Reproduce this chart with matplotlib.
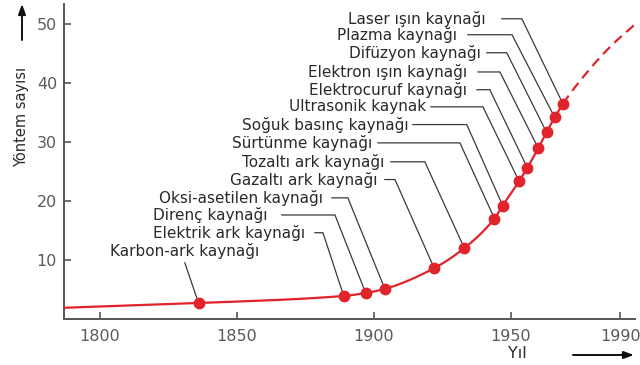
import numpy as np
import matplotlib
matplotlib.use("Agg")
import matplotlib.pyplot as plt

plt.rcParams['font.family'] = ['DejaVu Sans']

# Welding methods and the year each appeared (cumulative number of methods)
methods = [
    "Karbon-ark kaynağı",
    "Elektrik ark kaynağı",
    "Direnç kaynağı",
    "Oksi-asetilen kaynağı",
    "Gazaltı ark kaynağı",
    "Tozaltı ark kaynağı",
    "Sürtünme kaynağı",
    "Soğuk basınç kaynağı",
    "Ultrasonik kaynak",
    "Elektrocuruf kaynağı",
    "Elektron ışın kaynağı",
    "Difüzyon kaynağı",
    "Plazma kaynağı",
    "Laser ışın kaynağı",
]
years = [1836, 1889, 1897, 1904, 1922, 1933, 1944, 1947, 1953, 1956, 1960, 1963, 1966, 1969]
counts = [2.7, 3.9, 4.4, 5.1, 8.6, 12.0, 17.0, 19.2, 23.3, 25.6, 28.9, 31.6, 34.1, 36.4]

# Trend before the first method and projected growth afterwards
early_years = [1787]
early_counts = [1.9]
future_years = [1979, 1987, 1996.4]
future_counts = [42.4, 46.4, 50.3]

x_ticks = [1800, 1850, 1900, 1950, 1990]
y_ticks = [10, 20, 30, 40, 50]

# Label layout: start of leader, elbow x, label height (data units),
# gap between text and leader (points)
label_start = [1831.0, 1878.5, 1866.4, 1884.7, 1904.0, 1906.2, 1901.5,
               1914.2, 1920.8, 1937.6, 1938.0, 1941.2, 1934.3, 1946.7]
label_elbow = [1831.0, 1881.4, 1885.8, 1890.5, 1907.7, 1918.6, 1931.4,
               1933.9, 1939.8, 1942.3, 1946.0, 1948.5, 1950.4, 1954.0]
label_y = [9.5, 14.6, 17.6, 20.5, 23.6, 26.6, 29.8,
           32.9, 35.9, 38.8, 41.8, 45.05, 48.1, 50.8]
label_gap = [0, 7, 10, 6.5, 5.5, 4.5, 4, 3, 3.5, 7, 8, 4, 8, 12]

RED = '#e1232b'
INK = '#2a2a2a'
AXIS = '#555555'


def pchip(xk, yk, xs):
    """Monotone cubic (Fritsch-Carlson) curve through the knots."""
    xk = np.asarray(xk, float)
    yk = np.asarray(yk, float)
    h = np.diff(xk)
    d = np.diff(yk) / h
    m = np.zeros_like(yk)
    for i in range(1, len(xk) - 1):
        if d[i - 1] * d[i] > 0:
            w1 = 2 * h[i] + h[i - 1]
            w2 = h[i] + 2 * h[i - 1]
            m[i] = (w1 + w2) / (w1 / d[i - 1] + w2 / d[i])
    m[0] = d[0]
    m[-1] = d[-1]
    idx = np.clip(np.searchsorted(xk, xs) - 1, 0, len(xk) - 2)
    t = (xs - xk[idx]) / h[idx]
    h00 = 2 * t**3 - 3 * t**2 + 1
    h10 = t**3 - 2 * t**2 + t
    h01 = -2 * t**3 + 3 * t**2
    h11 = t**3 - t**2
    return (h00 * yk[idx] + h10 * h[idx] * m[idx]
            + h01 * yk[idx + 1] + h11 * h[idx] * m[idx + 1])


fig = plt.figure(figsize=(6.4, 3.65), dpi=100)
ax = fig.add_axes([64 / 640, 46 / 365, 571 / 640, 315 / 365])
ax.set_xlim(1786.9, 1995.3)
ax.set_ylim(0, 53.3)

knot_x = early_years + years + future_years
knot_y = early_counts + counts + future_counts
xs_solid = np.linspace(knot_x[0], years[-1], 400)
xs_dash = np.linspace(years[-1], future_years[-1], 120)
ax.plot(xs_solid, pchip(knot_x, knot_y, xs_solid), color=RED, lw=1.6,
        zorder=3, solid_capstyle='butt')
ax.plot(xs_dash, pchip(knot_x, knot_y, xs_dash), color=RED, lw=1.6,
        linestyle=(0, (4.5, 2.7)), zorder=3, clip_on=False)
ax.plot(years, counts, 'o', color=RED, ms=7.5, mec=RED, zorder=4)

for name, x0, xe, yl, gap, xp, yp in zip(methods, label_start, label_elbow,
                                         label_y, label_gap, years, counts):
    ax.plot([x0, xe, xp], [yl, yl, yp], color='#3a3a3a', lw=0.9, zorder=2,
            solid_joinstyle='miter')
    if x0 == xe:
        ax.annotate(name, xy=(x0, yl), xytext=(0, 3), textcoords='offset points',
                    ha='center', va='bottom', fontsize=11, color=INK)
    else:
        ax.annotate(name, xy=(x0, yl), xytext=(-gap, 0), textcoords='offset points',
                    ha='right', va='center', fontsize=11, color=INK)

for side in ('top', 'right'):
    ax.spines[side].set_visible(False)
for side in ('left', 'bottom'):
    ax.spines[side].set_color(AXIS)
    ax.spines[side].set_linewidth(1.4)

ax.set_xticks(x_ticks)
ax.set_xticklabels([str(v) for v in x_ticks])
ax.set_yticks(y_ticks)
ax.set_yticklabels([str(v) for v in y_ticks])
ax.tick_params(direction='in', length=5, width=1.2, color=AXIS,
               labelcolor='#5a5a5a', labelsize=11.5)
ax.tick_params(axis='x', pad=7)
ax.tick_params(axis='y', pad=5)
for lab in ax.get_xticklabels():
    lab.set_clip_on(False)

fig.text(22 / 640, 248 / 365, "Yöntem sayısı", rotation=90, ha='center',
         va='center', fontsize=10.5, color=INK)
fig.text(517 / 640, 12 / 365, "Yıl", ha='center', va='center', fontsize=11.5,
         color=INK)

arrow_kw = dict(arrowstyle='-|>,head_length=0.6,head_width=0.22', color='#111111',
                lw=1.4, shrinkA=0, shrinkB=0)
ax.annotate('', xy=(634, 10), xytext=(573, 10), xycoords='figure pixels',
            textcoords='figure pixels', arrowprops=arrow_kw, annotation_clip=False)
ax.annotate('', xy=(22, 361), xytext=(22, 325), xycoords='figure pixels',
            textcoords='figure pixels', arrowprops=arrow_kw, annotation_clip=False)

fig.savefig('out.png', dpi=100)
